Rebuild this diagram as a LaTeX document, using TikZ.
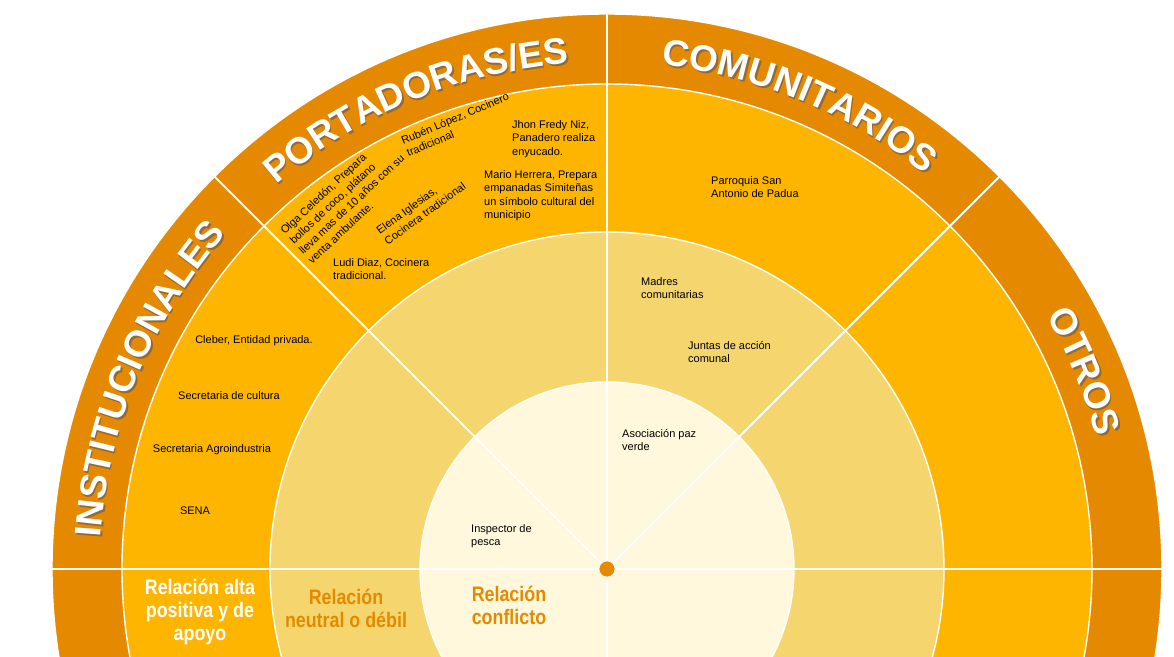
\documentclass[tikz,border=0pt]{standalone}
\usepackage{fontspec}
\setmainfont{Liberation Sans}
\newfontfamily\bandfont[FakeStretch=0.85]{Liberation Sans}
\usetikzlibrary{decorations.text}
\definecolor{ringA}{HTML}{E58A00}
\definecolor{ringB}{HTML}{FDB500}
\definecolor{ringC}{HTML}{F5D66E}
\definecolor{ringD}{HTML}{FFF8DC}
\definecolor{shade}{HTML}{8E6A3E}

\begin{document}
\begin{tikzpicture}[x=1pt,y=1pt,
  ring/.style={draw=white, line width=1.4pt},
  spoke/.style={white, line width=2pt},
  actor/.style={font=\fontsize{11}{13.5}\selectfont, inner sep=0pt, align=left},
  band/.style={font=\bandfont\fontsize{21}{23}\selectfont\bfseries, inner sep=0pt, align=center},
  title/.style 2 args={decorate, decoration={text along path,
    text={|\fontsize{37}{40}\selectfont\bfseries|#1}, text align=center, text color=#2}}]
\useasboundingbox (-607,-87) rectangle (567,569);
\clip (-607,-87) rectangle (567,569);
\coordinate (c) at (0,0);

% rings
\filldraw[ring, fill=ringA] (c) circle (555);
\filldraw[ring, fill=ringB] (c) circle (485);
\filldraw[ring, fill=ringC] (c) circle (337);
\filldraw[ring, fill=ringD] (c) circle (187);
\foreach \a in {0,45,90,135,180,270}
  \draw[spoke] (c) -- (\a:555);
\node[circle, fill=ringA, draw=white, line width=0.6pt, minimum size=16pt, inner sep=0pt] (hub) at (c) {};

% sector titles
\begin{scope}[shift={(1.5,-2)}]
\path[title={INSTITUCIONALES}{shade}] (180:507) arc[start angle=180, end angle=135, radius=507];
\path[title={PORTADORAS/ES}{shade}] (135:507) arc[start angle=135, end angle=90, radius=507];
\path[title={COMUNITARIOS}{shade}] (90:507) arc[start angle=90, end angle=45, radius=507];
\path[title={OTROS}{shade}] (45:507) arc[start angle=45, end angle=0, radius=507];
\end{scope}
\path[title={INSTITUCIONALES}{white}] (180:507) arc[start angle=180, end angle=135, radius=507];
\path[title={PORTADORAS/ES}{white}] (135:507) arc[start angle=135, end angle=90, radius=507];
\path[title={COMUNITARIOS}{white}] (90:507) arc[start angle=90, end angle=45, radius=507];
\path[title={OTROS}{white}] (45:507) arc[start angle=45, end angle=0, radius=507];

% institucionales
\node[actor] (cleber) at (-353,228) {Cleber, Entidad privada.};
\node[actor] (cultura) at (-378,173) {Secretaria de cultura};
\node[actor] (agro) at (-395,119) {Secretaria Agroindustria};
\node[actor] (sena) at (-412,58) {SENA};

% portadoras/es
\node[actor, anchor=north west, rotate=43] (olga) at (-328,340) {Olga Celedón, Prepara\\bollos de coco, plátano\\lleva mas de 10 años con su\\venta ambulante.};
\node[actor, anchor=north west, rotate=23] (ruben) at (-207,432) {Rubén López, Cocinero\\tradicional};
\node[actor, anchor=north west, rotate=36] (elena) at (-232,341) {Elena Iglesias,\\Cocinera tradicional};
\node[actor, anchor=north west] (ludi) at (-274,311) {Ludi Diaz, Cocinera\\tradicional.};
\node[actor, anchor=north west] (jhon) at (-95,449) {Jhon Fredy Niz,\\Panadero realiza\\enyucado.};
\node[actor, anchor=north west] (mario) at (-123,399) {Mario Herrera, Prepara\\empanadas Simiteñas\\un símbolo cultural del\\municipio};
\node[actor, anchor=north west] (inspector) at (-136,45) {Inspector de\\pesca};

% comunitarios
\node[actor, anchor=north west] (parroquia) at (104,393) {Parroquia San\\Antonio de Padua};
\node[actor, anchor=north west] (madres) at (34,292) {Madres\\comunitarias};
\node[actor, anchor=north west] (juntas) at (81,228) {Juntas de acción\\comunal};
\node[actor, anchor=north west] (paz) at (15,140) {Asociación paz\\verde};

% leyenda
\node[band, text=white] (alta) at (-407,-43) {Relación alta\\positiva y de\\apoyo};
\node[band, text=ringA] (neutral) at (-261,-39.5) {Relación\\neutral o débil};
\node[band, text=ringA] (conflicto) at (-98,-36.5) {Relación\\conflicto};
\end{tikzpicture}
\end{document}
